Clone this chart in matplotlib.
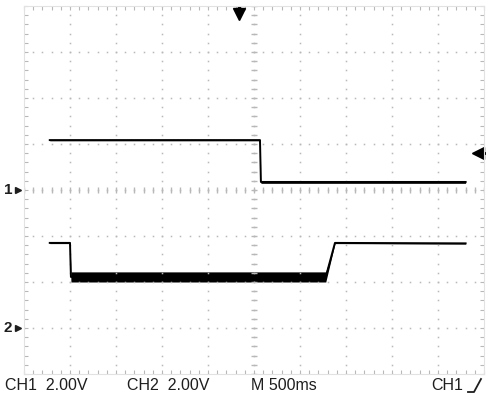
import numpy as np
import matplotlib
matplotlib.use("Agg")
import matplotlib.pyplot as plt
from matplotlib.lines import Line2D

# ── scope settings ────────────────────────────────────────────────────────────
SEC_PER_DIV = 0.5          # M 500ms
VOLT_PER_DIV = 2.0         # CH1 / CH2 2.00V
N_XDIV, N_YDIV = 10, 8
CH1_GROUND = 4.0           # divisions from bottom
CH2_GROUND = 1.0
TRIG_LEVEL = 1.6           # V on CH1
TRIG_POS = 2.34            # s

# ── traces (time in s, volts, noise half-width in V) ─────────────────────────
ch1_t = [0.28, 2.565, 2.575, 4.80]
ch1_v = [2.17, 2.17, 0.35, 0.35]
ch1_w = [0.03, 0.03, 0.06, 0.06]

ch2_t = [0.28, 0.50, 0.51, 3.28, 3.38, 4.80]
ch2_v = [3.70, 3.70, 2.22, 2.22, 3.70, 3.68]
ch2_w = [0.03, 0.03, 0.22, 0.22, 0.03, 0.03]

labels = ["CH1  2.00V", "CH2  2.00V", "M 500ms", "CH1"]

GRID = "#b8b8b8"
INK = "#1e1e1e"
plt.rcParams["font.family"] = ["Liberation Sans", "DejaVu Sans"]

fig = plt.figure(figsize=(4.86, 3.99), dpi=100)
ax = fig.add_axes([24 / 486, 25 / 399, 460 / 486, 368 / 399])
t_max = N_XDIV * SEC_PER_DIV
ax.set_xlim(0, t_max)
ax.set_ylim(0, N_YDIV)

# dotted graticule
xmaj = np.arange(1, N_XDIV) * SEC_PER_DIV
ymaj = np.arange(1, N_YDIV)
xmin = np.arange(0, N_XDIV * 5 + 1) * SEC_PER_DIV / 5
ymin = np.arange(0, N_YDIV * 5 + 1) / 5
for x in xmaj:
    ax.plot(np.full_like(ymin, x), ymin, ls="none", marker="s", ms=1.1,
            mew=0, color=GRID)
for y in ymaj:
    ax.plot(xmin, np.full_like(xmin, y), ls="none", marker="s", ms=1.1,
            mew=0, color=GRID)

# centre lines with minor ticks
ax.plot(np.full_like(ymin, t_max / 2), ymin, ls="none", marker="_", ms=5,
        mew=1, color=GRID)
ax.plot(xmin, np.full_like(xmin, N_YDIV / 2), ls="none", marker="|", ms=5,
        mew=1, color=GRID)

# border with inward ticks
for s in ax.spines.values():
    s.set_color("#e2e2e2")
    s.set_linewidth(0.8)
ax.set_xticks(xmin)
ax.set_yticks(ymin)
ax.tick_params(direction="in", length=3, width=0.8, color=GRID,
               top=True, right=True, labelbottom=False, labelleft=False)


def to_div(v, ground):
    return ground + np.asarray(v) / VOLT_PER_DIV


for t, v, w, g in [(ch1_t, ch1_v, ch1_w, CH1_GROUND),
                   (ch2_t, ch2_v, ch2_w, CH2_GROUND)]:
    v = np.asarray(v)
    w = np.asarray(w)
    ax.fill_between(t, to_div(v - w, g), to_div(v + w, g), color="black",
                    lw=0)
    ax.plot(t, to_div(v, g), color="black", lw=1.4)

# channel ground markers
for name, g in [("1", CH1_GROUND), ("2", CH2_GROUND)]:
    ax.plot(-0.065, g, marker=">", ms=4, color=INK, clip_on=False)
    ax.text(-0.13, g, name, ha="right", va="center", fontsize=11,
            fontweight="bold", color=INK, clip_on=False)

# trigger markers
ax.plot(TRIG_POS, to_div(0, N_YDIV) - 0.17, marker="v", ms=8, color="black",
        clip_on=False)
ax.plot(TRIG_POS, to_div(0, N_YDIV) - 0.07, marker="|", ms=5, mew=2.5,
        color="black", clip_on=False)
ax.plot(4.94, to_div(TRIG_LEVEL, CH1_GROUND), marker="<", ms=8,
        color="black", clip_on=False)
ax.plot(4.985, to_div(TRIG_LEVEL, CH1_GROUND), marker="_", ms=4, mew=2,
        color="black", clip_on=False)

# status line
for txt, x in zip(labels, [5, 127, 251, 431]):
    fig.text(x / 486, 1 - 386 / 399, txt, ha="left", va="center",
             fontsize=11.5, color=INK)
fig.add_artist(Line2D(np.array([468, 474, 481]) / 486,
                      1 - np.array([392, 392, 379]) / 399,
                      color=INK, lw=1.3))

fig.savefig("out.png", dpi=100, facecolor="white")
